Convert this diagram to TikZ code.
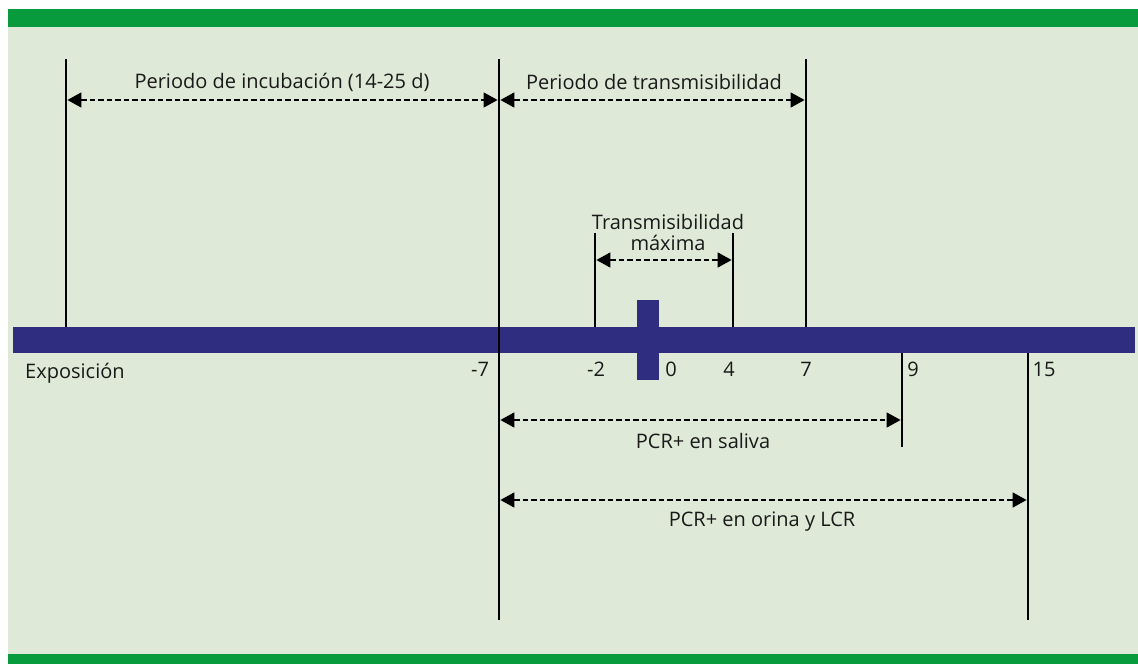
\documentclass[tikz,border=0pt]{standalone}
\usepackage{fontspec}
\setmainfont{Open Sans}
\usetikzlibrary{arrows.meta}
\definecolor{bandgreen}{HTML}{079B3E}
\definecolor{panel}{HTML}{DEE9D7}
\definecolor{axisblue}{HTML}{2E2D80}
\tikzset{
  mark line/.style={line width=2.7pt, black},
  span/.style={line width=1.6pt, dash pattern=on 5.5pt off 3pt,
    {Triangle[length=14pt,width=15pt]}-{Triangle[length=14pt,width=15pt]}},
  lbl/.style={font=\fontsize{20}{23}\selectfont, text=black!90, inner sep=0pt},
}
\begin{document}
\begin{tikzpicture}[x=1pt,y=-1pt]
\useasboundingbox (0,0) rectangle (1138,664);
% panel and bands
\fill[white] (0,0) rectangle (1138,664);
\fill[panel] (8,27) rectangle (1138,654);
\fill[bandgreen] (8,9) rectangle (1138,27);
\fill[bandgreen] (8,654) rectangle (1138,664);
% time axis
\fill[axisblue] (13,327) rectangle (1135,353);
\fill[axisblue] (637,300) rectangle (659,380);
% vertical markers
\coordinate (e0) at (66,59);   \coordinate (e1) at (66,327);
\coordinate (m7a) at (499,59); \coordinate (m7b) at (499,620);
\coordinate (p7a) at (806,59); \coordinate (p7b) at (806,327);
\coordinate (m2a) at (595,233); \coordinate (m2b) at (595,327);
\coordinate (p4a) at (733,233); \coordinate (p4b) at (733,327);
\coordinate (p9a) at (902,353); \coordinate (p9b) at (902,447);
\coordinate (p15a) at (1028,353); \coordinate (p15b) at (1028,620);
\foreach \a/\b in {e0/e1,m7a/m7b,p7a/p7b,m2a/m2b,p4a/p4b,p9a/p9b,p15a/p15b}
  \draw[mark line] (\a) -- (\b);
% span arrows
\coordinate (inc0) at (67.4,100); \coordinate (inc1) at (497.6,100);
\coordinate (tr0) at (500.4,100); \coordinate (tr1) at (804.6,100);
\coordinate (mx0) at (596.4,260); \coordinate (mx1) at (731.6,260);
\coordinate (sa0) at (500.4,420); \coordinate (sa1) at (900.6,420);
\coordinate (or0) at (500.4,500); \coordinate (or1) at (1026.6,500);
\draw[span] (inc0) -- (inc1);
\draw[span] (tr0) -- (tr1);
\draw[span] (mx0) -- (mx1);
\draw[span] (sa0) -- (sa1);
\draw[span] (or0) -- (or1);
% span labels
\node[lbl] (tinc) at (282,82) {Periodo de incubación (14-25 d)};
\node[lbl] (ttr) at (654,82) {Periodo de transmisibilidad};
\node[lbl, align=center] (tmx) at (668,232) {Transmisibilidad\\[-2pt]máxima};
\node[lbl] (tsa) at (703,441) {PCR+ en saliva};
\node[lbl] (tor) at (762,522) {PCR+ en orina y LCR};
% axis labels
\node[lbl, anchor=west] (texp) at (25,373) {Exposición};
\node[lbl] (tm7) at (480,369) {-7};
\node[lbl] (tm2) at (596,369) {-2};
\node[lbl] (t0) at (671,369) {0};
\node[lbl] (t4) at (729,369) {4};
\node[lbl] (t7) at (806,369) {7};
\node[lbl] (t9) at (913,369) {9};
\node[lbl] (t15) at (1044,369) {15};
\end{tikzpicture}
\end{document}
